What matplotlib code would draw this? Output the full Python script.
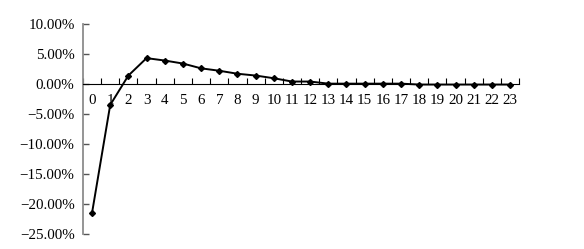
import matplotlib.pyplot as plt
from matplotlib.ticker import FuncFormatter

# Periods and response values (percent)
periods = list(range(24))
response = [-21.5, -3.5, 1.4, 4.3, 3.9, 3.4, 2.6, 2.2, 1.7, 1.4, 0.95, 0.4,
            0.4, 0.05, 0.05, 0.05, 0.05, 0.05, -0.1, -0.1, -0.1, -0.1, -0.1, -0.1]
y_ticks = [10, 5, 0, -5, -10, -15, -20, -25]

plt.rcParams['font.family'] = ['Liberation Serif', 'DejaVu Serif']
plt.rcParams['font.size'] = 10.8

fig = plt.figure(figsize=(5.84, 2.49), dpi=100)
ax = fig.add_axes([0.142, 0.060, 0.747, 0.844])

ax.plot(periods, response, color='black', linewidth=1.4,
        marker='D', markersize=3, markerfacecolor='black')

ax.set_xlim(-0.5, 23.5)
ax.set_ylim(-25, 10)

# spines
ax.spines['top'].set_visible(False)
ax.spines['right'].set_visible(False)
ax.spines['bottom'].set_position(('data', 0))
ax.spines['bottom'].set_color('black')
ax.spines['left'].set_color('#8c8c8c')
ax.spines['left'].set_linewidth(1.3)

# y axis
ax.set_yticks(y_ticks)
ax.yaxis.set_major_formatter(FuncFormatter(lambda v, p: f"{v:.2f}%".replace('-', '\u2212')))
ax.tick_params(axis='y', direction='in', length=4, width=1, color='#555555', pad=6)

# x axis: ticks on category boundaries, labels at centres
ax.set_xticks([p - 0.5 for p in periods] + [23.5])
ax.set_xticklabels([])
ax.set_xticks(periods, minor=True)
ax.set_xticklabels([str(p) for p in periods], minor=True)
ax.tick_params(axis='x', which='major', direction='in', length=4, width=0.8)
ax.tick_params(axis='x', which='minor', length=0, pad=7)

plt.savefig("out.png", dpi=100)
